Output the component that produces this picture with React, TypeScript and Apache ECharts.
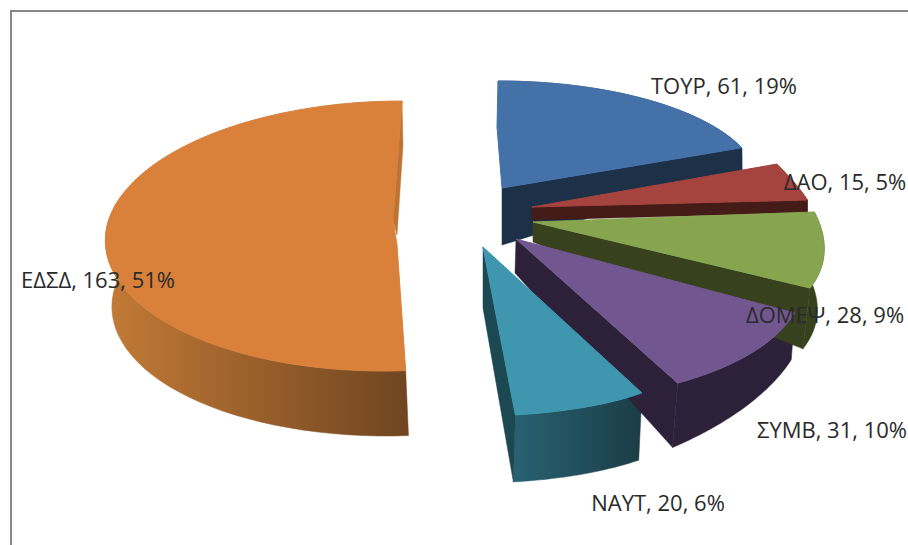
import React, { useEffect, useRef } from "react";
import * as echarts from "echarts";

const categories = ["ΤΟΥΡ", "ΔΑΟ", "ΔΟΜΕΨ", "ΣΥΜΒ", "ΝΑΥΤ", "ΕΔΣΔ"];
const values = [61, 15, 28, 31, 20, 163];

const topColors = ["#4472A8", "#A5433F", "#87A44F", "#71568F", "#3E97AF", "#D9813B"];
const cutColors = ["#1C3048", "#451B18", "#37411D", "#2D213A", "#1C4852", "#BD7433"];
const wallStops = [
  ["#1C3048", "#1C3048"],
  ["#451B18", "#451B18"],
  ["#37411D", "#37411D"],
  ["#2D213A", "#2D213A"],
  ["#286272", "#1B3D47"],
  ["#C27A36", "#6F4520"],
];
const wallRange = [[500, 745], [530, 810], [530, 825], [515, 800], [513, 640], [108, 408]];
// Share of each slice's arc whose outer wall can be seen from the viewer's side.
const wallShare = [1, 1, 1, 1, 1, 0.6];

// Hand-fitted projection of each exploded slice: ellipse of the top face, ellipse of the rim below it.
type Arc = { cx: number; cy: number; rx0: number; rx1: number; ry0: number; ry1: number; sk?: number };
const topArcs: Arc[] = [
  { cx: 498, cy: 185, rx0: 261, rx1: 261, ry0: 104, ry1: 104 },
  { cx: 532, cy: 207, rx0: 262, rx1: 276, ry0: 120, ry1: 101 },
  { cx: 533, cy: 222, rx0: 282, rx1: 313, ry0: 145, ry1: 142 },
  { cx: 516, cy: 239, rx0: 315, rx1: 354, ry0: 159, ry1: 162 },
  { cx: 483, cy: 247, rx0: 348, rx1: 410, ry0: 164, ry1: 168.5 },
  { cx: 392.5, cy: 236, rx0: 287, rx1: 287, ry0: 135, ry1: 135, sk: 9.5 },
];
const rimArcs: Arc[] = [
  { cx: 502, cy: 212, rx0: 257, rx1: 257, ry0: 117, ry1: 117 },
  { cx: 532, cy: 220, rx0: 262, rx1: 276, ry0: 120, ry1: 101 },
  { cx: 533, cy: 285, rx0: 276, rx1: 305, ry0: 137, ry1: 137 },
  { cx: 516, cy: 290, rx0: 311, rx1: 343, ry0: 150, ry1: 177 },
  { cx: 483, cy: 308, rx0: 341, rx1: 385, ry0: 171, ry1: 174.5 },
  { cx: 396, cy: 302, rx0: 284, rx1: 284, ry0: 134, ry1: 134, sk: 10 },
];
const apexes: number[][][] = [
  [[502, 188], [497, 127]],
  [[532, 207]],
  [[533, 222]],
  [[516, 239]],
  [[483, 247]],
  [[393, 220], [397, 245]],
];
const cutBottoms: number[][] = [[502, 245], [532, 220], [533, 242], [515, 273], [483, 308], [397, 235]];
const cutEndOverride: (number[] | null)[] = [null, null, null, null, null, [403, 145]];

const labelCenters = [[724, 85], [845, 181], [825, 314], [832, 429], [658, 502], [98, 279]];

const total = values.reduce((a, b) => a + b, 0);
const STEPS = 60;

function pt(a: Arc, th: number, t: number): number[] {
  const rx = a.rx0 + (a.rx1 - a.rx0) * t;
  const ry = a.ry0 + (a.ry1 - a.ry0) * t;
  return [a.cx + rx * Math.sin(th) + (a.sk || 0) * Math.cos(th), a.cy - ry * Math.cos(th)];
}

function arcPts(a: Arc, th0: number, th1: number): number[][] {
  const out: number[][] = [];
  for (let i = 0; i <= STEPS; i++) {
    const t = i / STEPS;
    out.push(pt(a, th0 + (th1 - th0) * t, t));
  }
  return out;
}

function renderItem(params: any, api: any) {
  const i = params.dataIndex;
  let before = 0;
  for (let k = 0; k < i; k++) before += values[k];
  const th0 = (before / total) * Math.PI * 2;
  const th1 = ((before + api.value(1)) / total) * Math.PI * 2;
  const top = arcPts(topArcs[i], th0, th1);
  const rim = arcPts(rimArcs[i], th0, th1);
  const topEnd = top[top.length - 1];
  const rimEnd = cutEndOverride[i] || rim[rim.length - 1];
  const ap = apexes[i];
  const seen = Math.round(STEPS * wallShare[i]) + 1;
  const wall = new echarts.graphic.LinearGradient(
    wallRange[i][0], 0, wallRange[i][1], 0,
    [{ offset: 0, color: wallStops[i][0] }, { offset: 1, color: wallStops[i][1] }],
    true
  );
  return {
    type: "group",
    children: [
      {
        type: "polygon",
        shape: { points: top.slice(0, seen).concat(rim.slice(0, seen).reverse()) },
        style: { fill: wall, stroke: wall, lineWidth: 0.5 },
        silent: true,
        z2: 0,
      },
      {
        type: "polygon",
        shape: { points: [ap[0], topEnd, rimEnd, cutBottoms[i]] },
        style: { fill: cutColors[i], stroke: cutColors[i], lineWidth: 0.5 },
        silent: true,
        z2: 1,
      },
      {
        type: "polygon",
        shape: { points: top.concat(ap) },
        style: { fill: topColors[i], stroke: topColors[i], lineWidth: 1 },
        silent: true,
        z2: 2,
      },
    ],
  };
}

export default function App() {
  const ref = useRef<HTMLDivElement>(null);
  useEffect(() => {
    document.body.style.margin = "0";
    document.body.style.background = "#fff";
    const chart = echarts.init(ref.current!, undefined, { renderer: "svg" });
    chart.setOption({
      animation: false,
      backgroundColor: "#ffffff",
      series: [
        {
          type: "custom",
          coordinateSystem: "none",
          renderItem,
          clip: false,
          data: values.map((v, i) => [i, v]),
        },
      ],
      graphic: [
        { type: "line", z: 5, shape: { x1: 11, y1: 11, x2: 908, y2: 11 }, style: { stroke: "#878787", lineWidth: 2 } },
        { type: "line", z: 5, shape: { x1: 11, y1: 10, x2: 11, y2: 545 }, style: { stroke: "#878787", lineWidth: 2 } },
        ...categories.map((c, i) => ({
          type: "text",
          z: 10,
          x: labelCenters[i][0],
          y: labelCenters[i][1],
          style: {
            text: `${c}, ${values[i]}, ${Math.round((values[i] / total) * 100)}%`,
            fill: "#2a2a2a",
            font: '22px "Open Sans"',
            textAlign: "center",
            textVerticalAlign: "middle",
          },
        })),
      ],
    });
    return () => chart.dispose();
  }, []);
  return <div ref={ref} style={{ width: 908, height: 545 }} />;
}
